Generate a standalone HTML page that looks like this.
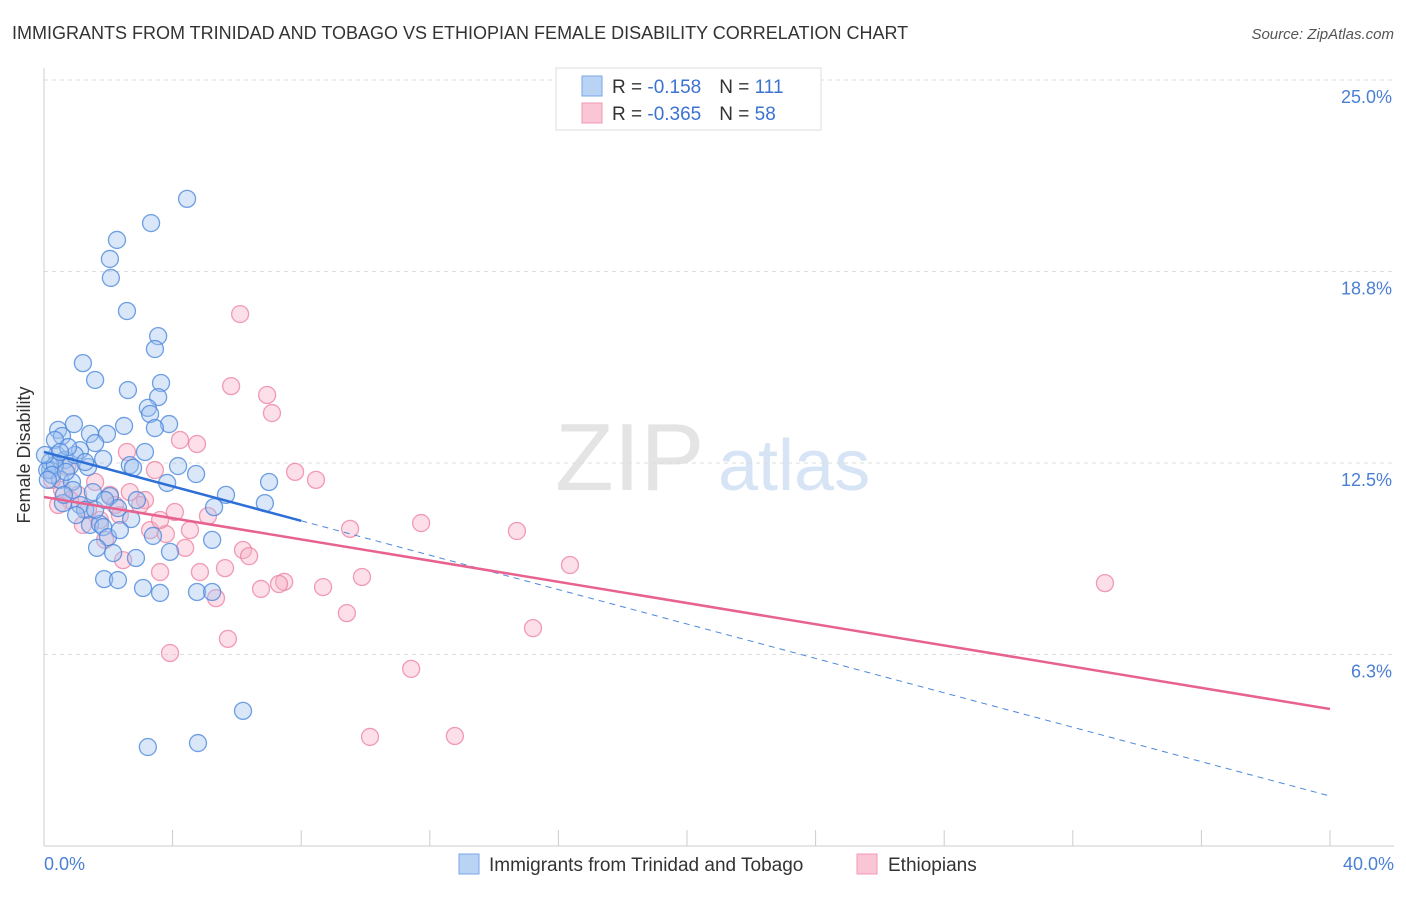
<!DOCTYPE html>
<html><head><meta charset="utf-8"><style>
body{margin:0;background:#fff;font-family:"Liberation Sans",sans-serif}
svg text{font-family:"Liberation Sans",sans-serif}
</style></head><body>
<svg width="1406" height="892" id="chart">
<text x="12" y="39" font-size="18" fill="#333">IMMIGRANTS FROM TRINIDAD AND TOBAGO VS ETHIOPIAN FEMALE DISABILITY CORRELATION CHART</text>
<text x="1394" y="39" font-size="15" fill="#555" font-style="italic" text-anchor="end">Source: ZipAtlas.com</text>
<g>
<text x="555" y="490" font-size="96" fill="#e4e4e4" font-family="Liberation Serif">ZIP</text>
<text x="718" y="490" font-size="72" fill="#d6e4f5">atlas</text>
</g>
<g id="grid"></g>
<g id="axes"></g>
<g id="pts"></g>
<g id="lines"></g>
<text x="30" y="455" font-size="18" fill="#333" transform="rotate(-90 30 455)" text-anchor="middle">Female Disability</text>
<text x="44" y="870" font-size="18" fill="#4a7fd4">0.0%</text>
<text x="1394" y="870" font-size="18" fill="#4a7fd4" text-anchor="end">40.0%</text>
<g>
<rect x="556" y="68" width="265" height="62" fill="#fff" stroke="#ddd"/>
<rect x="582" y="76" width="20" height="20" fill="#b9d3f5" stroke="#7aa6e6"/>
<rect x="582" y="103" width="20" height="20" fill="#fac5d4" stroke="#f09ab4"/>
<text x="612" y="93" font-size="19" fill="#333">R = <tspan fill="#3b73d0"> -0.158</tspan><tspan dx="18">N = </tspan><tspan fill="#3b73d0">111</tspan></text>
<text x="612" y="120" font-size="19" fill="#333">R = <tspan fill="#3b73d0">-0.365</tspan><tspan dx="18">N = </tspan><tspan fill="#3b73d0">58</tspan></text>
</g>
<g>
<rect x="459" y="854" width="20" height="20" fill="#b9d3f5" stroke="#7aa6e6"/>
<text x="489" y="871" font-size="19" fill="#333">Immigrants from Trinidad and Tobago</text>
<rect x="857" y="854" width="20" height="20" fill="#fac5d4" stroke="#f09ab4"/>
<text x="888" y="871" font-size="19" fill="#333">Ethiopians</text>
</g>
</svg>
<script>
const yTicks=[6.25,12.5,18.75,25];
const yTickLabels=["6.3%","12.5%","18.8%","25.0%"];
const xTicks=[0,4,8,12,16,20,24,28,32,36,40];
const blueX=[4.45,3.33,2.27,2.05,2.08,2.58,3.55,3.45,1.21,1.59,3.64,2.61,3.55,3.23,3.3,3.89,3.45,2.49,0.93,0.44,0.56,0.34,1.43,1.96,1.59,1.12,3.14,1.84,0.4,0.65,0.81,1.37,2.67,2.77,4.17,4.73,7.0,3.83,0.19,0.5,0.87,1.52,2.05,5.66,2.89,6.87,5.29,0.59,1.12,1.28,2.3,1.0,2.71,1.43,1.74,1.84,3.39,1.99,5.23,1.65,2.15,2.86,3.92,1.87,2.3,3.08,3.61,4.76,5.23,6.19,3.23,4.79,0.19,0.1,0.34,0.03,0.25,0.68,0.96,1.28,0.75,0.5,0.12,0.9,0.62,1.59,2.36,1.9];
const blueY=[21.12,20.33,19.78,19.16,18.54,17.46,16.64,16.22,15.76,15.21,15.11,14.88,14.65,14.3,14.1,13.77,13.64,13.71,13.77,13.58,13.38,13.25,13.45,13.45,13.15,12.92,12.86,12.63,12.76,12.6,12.4,12.37,12.43,12.34,12.4,12.14,11.88,11.85,12.27,11.95,11.88,11.55,11.42,11.46,11.29,11.19,11.06,11.19,11.13,10.97,11.03,10.8,10.67,10.48,10.51,10.41,10.12,10.08,9.99,9.73,9.56,9.4,9.6,8.71,8.68,8.42,8.26,8.29,8.29,4.41,3.23,3.36,12.53,12.27,12.43,12.76,12.11,12.21,12.76,12.53,13.02,12.86,11.95,11.62,11.46,10.97,10.31,11.29];
const pinkX=[6.1,5.82,6.94,7.09,4.23,4.76,2.58,3.45,7.81,8.46,0.72,1.59,0.56,1.06,2.05,2.67,3.14,4.07,5.1,11.73,9.52,14.71,1.74,2.36,1.21,3.3,4.54,3.79,6.19,6.38,4.39,2.46,16.36,9.89,4.85,5.63,3.61,7.47,6.75,7.31,8.68,5.35,33.0,9.42,15.21,5.72,3.92,11.42,10.14,12.78,0.25,0.81,1.37,2.99,1.9,0.44,3.61,2.21];
const pinkY=[17.36,15.01,14.72,14.13,13.25,13.12,12.86,12.27,12.21,11.95,12.37,11.88,11.62,11.46,11.46,11.55,11.29,10.9,10.77,10.54,10.35,10.28,10.64,10.8,10.48,10.31,10.31,10.18,9.66,9.46,9.73,9.33,9.17,8.78,8.94,9.07,8.94,8.62,8.39,8.55,8.45,8.09,8.58,7.6,7.11,6.76,6.3,5.78,3.56,3.59,11.95,11.29,10.97,11.13,9.99,11.13,10.64,11.13];
const blueFit=[12.86,-0.28075];
const pinkFit=[11.39,-0.173];
const NS="http://www.w3.org/2000/svg";
const X=v=>44+v*(1330-44)/40;
const Y=v=>846-v*(846-80)/25;
function mk(tag,attrs,parent){const e=document.createElementNS(NS,tag);for(const k in attrs)e.setAttribute(k,attrs[k]);parent.appendChild(e);return e;}
const grid=document.getElementById('grid'),axes=document.getElementById('axes'),pts=document.getElementById('pts'),lines=document.getElementById('lines');
yTicks.forEach((t,i)=>{
 const l=mk('line',{x1:44,x2:1394,y1:Y(t),y2:Y(t),stroke:'#ddd','stroke-dasharray':'4,4'},grid);
 
 
 const tx=mk('text',{x:1392,y:Y(t)+23,'font-size':18,fill:'#4a7fd4','text-anchor':'end'},grid);
 tx.textContent=yTickLabels[i];
 
 
});
const ya=mk('line',{x1:44,x2:44,y1:68,y2:846,stroke:'#ccc'},axes);


const xa=mk('line',{x1:44,x2:1394,y1:846,y2:846,stroke:'#ccc'},axes);


xTicks.forEach(t=>{
 const l=mk('line',{x1:X(t),x2:X(t),y1:830,y2:846,stroke:'#ccc'},axes);
 
 
});
function drawPts(xs,ys,fill,stroke,name){
 xs.forEach((v,i)=>{
  const c=mk('circle',{cx:X(v),cy:Y(ys[i]),r:8.5,fill:fill,'fill-opacity':0.4,stroke:stroke,'stroke-width':1.3,'stroke-opacity':0.8},pts);
  
  
 });
}
drawPts(pinkX,pinkY,'#f7b0c5','#ec84a4','ethiopian-point');
drawPts(blueX,blueY,'#9fc2ef','#4d88dc','trinidad-point');
const f=(fit,x)=>fit[0]+fit[1]*x;
const bs=mk('line',{x1:X(0),y1:Y(f(blueFit,0)),x2:X(8),y2:Y(f(blueFit,8)),stroke:'#2d6fd6','stroke-width':2.5},lines);


const bd=mk('line',{x1:X(8),y1:Y(f(blueFit,8)),x2:X(40),y2:Y(f(blueFit,40)),stroke:'#4d88dc','stroke-width':1,'stroke-dasharray':'6,5'},lines);


const pl=mk('line',{x1:X(0),y1:Y(f(pinkFit,0)),x2:X(40),y2:Y(f(pinkFit,40)),stroke:'#e8628f','stroke-width':2.5},lines);


</script>
</body></html>
